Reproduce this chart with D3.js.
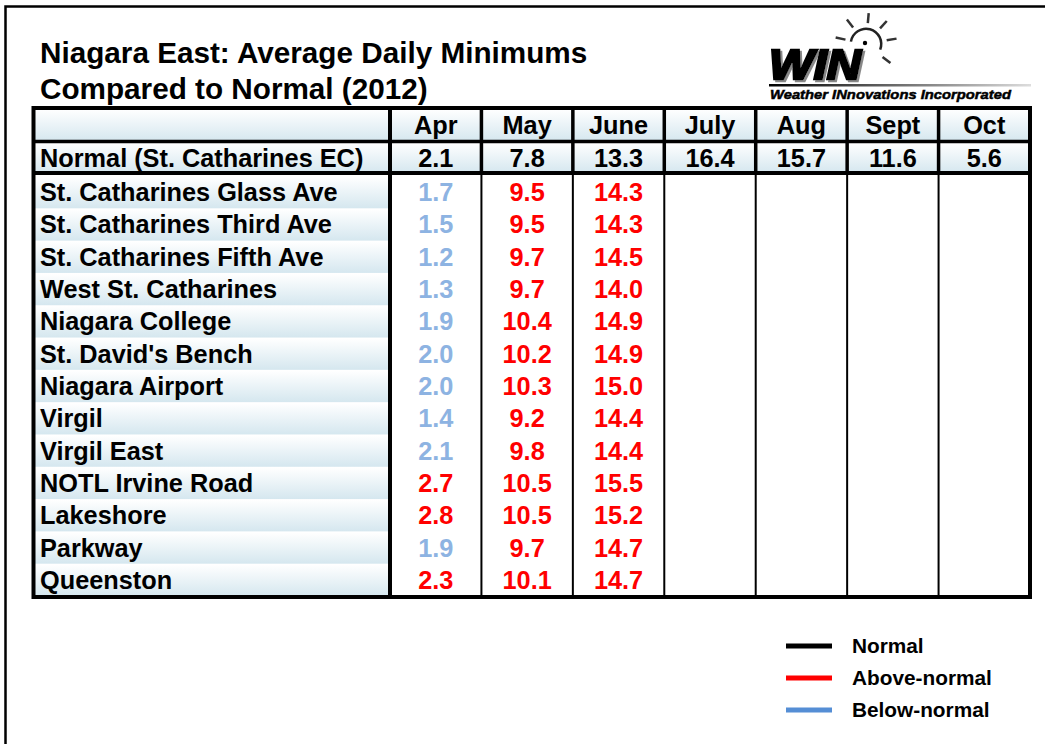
<!DOCTYPE html>
<html>
<head>
<meta charset="utf-8">
<script src="https://cdn.jsdelivr.net/npm/d3@7"></script>
<style>
body { margin: 0; background: #fff; }
svg { display: block; font-family: "Liberation Sans", Arial, sans-serif; font-weight: bold; }
</style>
</head>
<body>
<svg id="chart" width="1045" height="744"></svg>
<script>
// data
var months = ['Apr', 'May', 'June', 'July', 'Aug', 'Sept', 'Oct'];
var normalLabel = 'Normal (St. Catharines EC)';
var normals = [2.1, 7.8, 13.3, 16.4, 15.7, 11.6, 5.6];
var stations = ['St. Catharines Glass Ave', 'St. Catharines Third Ave', 'St. Catharines Fifth Ave',
    'West St. Catharines', 'Niagara College', "St. David's Bench", 'Niagara Airport', 'Virgil',
    'Virgil East', 'NOTL Irvine Road', 'Lakeshore', 'Parkway', 'Queenston'];
var aprValues = [1.7, 1.5, 1.2, 1.3, 1.9, 2.0, 2.0, 1.4, 2.1, 2.7, 2.8, 1.9, 2.3];
var mayValues = [9.5, 9.5, 9.7, 9.7, 10.4, 10.2, 10.3, 9.2, 9.8, 10.5, 10.5, 9.7, 10.1];
var juneValues = [14.3, 14.3, 14.5, 14.0, 14.9, 14.9, 15.0, 14.4, 14.4, 15.5, 15.2, 14.7, 14.7];
var legendLabels = ['Normal', 'Above-normal', 'Below-normal'];
var legendColors = ['#000000', '#ff0000', '#558ed5'];

var titleLines = ['Niagara East: Average Daily Minimums', 'Compared to Normal (2012)'];

var svg = d3.select('#chart');
var defs = svg.append('defs');

var grad = defs.append('linearGradient')
    .attr('id', 'cellGrad')
    .attr('x1', 0).attr('y1', 0).attr('x2', 0).attr('y2', 1);
grad.append('stop').attr('offset', '0%').attr('stop-color', '#ffffff');
grad.append('stop').attr('offset', '100%').attr('stop-color', '#d5e7ef');

var logoGrad = defs.append('linearGradient')
    .attr('id', 'logoLine')
    .attr('x1', 0).attr('y1', 0).attr('x2', 1).attr('y2', 0);
logoGrad.append('stop').attr('offset', '0%').attr('stop-color', '#000');
logoGrad.append('stop').attr('offset', '100%').attr('stop-color', '#ddd');

// soft grey shadow behind the WIN letters
defs.append('filter')
    .attr('id', 'winShadow')
    .append('feDropShadow')
    .attr('dx', 2).attr('dy', 2).attr('stdDeviation', 0.6)
    .attr('flood-color', '#888');

// page frame
svg.append('rect')
    .attr('x', 5.5).attr('y', 6.5)
    .attr('width', 1100).attr('height', 800)
    .attr('fill', 'none').attr('stroke', '#000').attr('stroke-width', 2.5);

// title
svg.append('g').selectAll('text')
    .data(titleLines)
    .enter().append('text')
    .attr('x', 40)
    .attr('y', function(d, i) { return 63 + i * 36; })
    .attr('font-size', 29.7)
    .attr('fill', '#000')
    .text(function(d) { return d; });

// logo
var logo = svg.append('g');
logo.append('text')
    .attr('x', 769).attr('y', 79)
    .attr('font-size', 42).attr('font-style', 'italic')
    .attr('fill', '#000').attr('stroke', '#000').attr('stroke-width', 2.5)
    .attr('textLength', 92).attr('lengthAdjust', 'spacingAndGlyphs')
    .attr('filter', 'url(#winShadow)')
    .text('WIN');
var sunC = [866, 44];
logo.append('path')
    .attr('transform', 'translate(' + sunC + ')')
    .attr('d', d3.arc()({ innerRadius: 14, outerRadius: 16.5, startAngle: -Math.PI * 0.45, endAngle: Math.PI * 0.62 }))
    .attr('fill', '#222');
logo.append('circle').attr('cx', sunC[0] - 1).attr('cy', sunC[1] - 1).attr('r', 2.2).attr('fill', '#000');
var rayAngles = [-78, -38, 5, 42, 80, 128];
logo.append('g').selectAll('line')
    .data(rayAngles)
    .enter().append('line')
    .attr('x1', function(d) { return sunC[0] + 21 * Math.cos((d - 90) * Math.PI / 180); })
    .attr('y1', function(d) { return sunC[1] + 21 * Math.sin((d - 90) * Math.PI / 180); })
    .attr('x2', function(d) { return sunC[0] + 31 * Math.cos((d - 90) * Math.PI / 180); })
    .attr('y2', function(d) { return sunC[1] + 31 * Math.sin((d - 90) * Math.PI / 180); })
    .attr('stroke', '#333').attr('stroke-width', 2.5);
logo.append('rect')
    .attr('x', 769).attr('y', 84).attr('width', 262).attr('height', 2.5)
    .attr('fill', 'url(#logoLine)');
logo.append('text')
    .attr('x', 770).attr('y', 99)
    .attr('font-size', 13.5).attr('font-style', 'italic')
    .attr('textLength', 241).attr('lengthAdjust', 'spacingAndGlyphs')
    .attr('fill', '#000').attr('stroke', '#000').attr('stroke-width', 0.5)
    .text('Weather INnovations Incorporated');

// table geometry (named so they don't clash with window.top)
var tLeft = 33.5, labelRight = 390, tRight = 1030;
var tTop = 108, headBottom = 141.5, normBottom = 173, tBottom = 597;

var x = d3.scaleBand().domain(months).range([labelRight, tRight]);
var y = d3.scaleBand().domain(stations).range([normBottom + 3, tBottom - 1]);

var fs = 25.3;
var table = svg.append('g');

// gradient cells: header and normal rows, label column
var headRows = [{ y0: tTop, y1: headBottom }, { y0: headBottom, y1: normBottom }];
headRows.forEach(function(r) {
    table.append('rect')
        .attr('x', tLeft).attr('y', r.y0 + 1)
        .attr('width', labelRight - tLeft).attr('height', r.y1 - r.y0 - 1)
        .attr('fill', 'url(#cellGrad)');
    table.append('g').selectAll('rect')
        .data(months)
        .enter().append('rect')
        .attr('x', function(d) { return x(d); })
        .attr('y', r.y0 + 1)
        .attr('width', x.bandwidth())
        .attr('height', r.y1 - r.y0 - 1)
        .attr('fill', 'url(#cellGrad)');
});
table.append('g').selectAll('rect')
    .data(stations)
    .enter().append('rect')
    .attr('x', tLeft)
    .attr('y', function(d) { return y(d) + 1; })
    .attr('width', labelRight - tLeft)
    .attr('height', y.bandwidth() - 1)
    .attr('fill', 'url(#cellGrad)');

// header text
table.append('g').selectAll('text')
    .data(months)
    .enter().append('text')
    .attr('x', function(d) { return x(d) + x.bandwidth() / 2; })
    .attr('y', (tTop + headBottom) / 2 + 9.5)
    .attr('text-anchor', 'middle')
    .attr('font-size', fs)
    .text(function(d) { return d; });

table.append('text')
    .attr('x', 40).attr('y', (headBottom + normBottom) / 2 + 10)
    .attr('font-size', fs)
    .text(normalLabel);
table.append('g').selectAll('text')
    .data(normals)
    .enter().append('text')
    .attr('x', function(d, i) { return x(months[i]) + x.bandwidth() / 2; })
    .attr('y', (headBottom + normBottom) / 2 + 10)
    .attr('text-anchor', 'middle')
    .attr('font-size', fs)
    .text(function(d) { return d.toFixed(1); });

// station labels
table.append('g').selectAll('text')
    .data(stations)
    .enter().append('text')
    .attr('x', 40)
    .attr('y', function(d) { return y(d) + y.bandwidth() / 2 + 9; })
    .attr('font-size', fs)
    .text(function(d) { return d; });

// station values, red when above normal, blue otherwise
var series = [aprValues, mayValues, juneValues];
series.forEach(function(vals, m) {
    table.append('g').selectAll('text')
        .data(vals)
        .enter().append('text')
        .attr('x', x(months[m]) + x.bandwidth() / 2)
        .attr('y', function(d, i) { return y(stations[i]) + y.bandwidth() / 2 + 9; })
        .attr('text-anchor', 'middle')
        .attr('font-size', fs)
        .attr('fill', function(d) { return d > normals[m] ? '#ff0000' : '#8db3e2'; })
        .text(function(d) { return d.toFixed(1); });
});

// grid lines
var vlines = months.slice(1).map(function(d) { return x(d); });
table.append('g').selectAll('line')
    .data(vlines)
    .enter().append('line')
    .attr('x1', function(d) { return d; }).attr('x2', function(d) { return d; })
    .attr('y1', tTop).attr('y2', normBottom)
    .attr('stroke', '#000').attr('stroke-width', 3.5);
table.append('g').selectAll('line')
    .data(vlines)
    .enter().append('line')
    .attr('x1', function(d) { return d; }).attr('x2', function(d) { return d; })
    .attr('y1', normBottom).attr('y2', tBottom)
    .attr('stroke', '#000').attr('stroke-width', 2);
table.append('line')
    .attr('x1', labelRight).attr('x2', labelRight)
    .attr('y1', tTop).attr('y2', tBottom)
    .attr('stroke', '#000').attr('stroke-width', 4);
table.append('line')
    .attr('x1', tLeft).attr('x2', tRight)
    .attr('y1', headBottom).attr('y2', headBottom)
    .attr('stroke', '#000').attr('stroke-width', 3.5);
table.append('line')
    .attr('x1', tLeft).attr('x2', tRight)
    .attr('y1', normBottom).attr('y2', normBottom)
    .attr('stroke', '#000').attr('stroke-width', 4);
table.append('rect')
    .attr('x', tLeft).attr('y', tTop)
    .attr('width', tRight - tLeft).attr('height', tBottom - tTop)
    .attr('fill', 'none').attr('stroke', '#000').attr('stroke-width', 4);

// legend
var legend = svg.append('g').selectAll('g')
    .data(legendLabels)
    .enter().append('g')
    .attr('transform', function(d, i) { return 'translate(786,' + (646 + i * 32) + ')'; });
legend.append('line')
    .attr('x1', 0).attr('x2', 46)
    .attr('stroke', function(d, i) { return legendColors[i]; })
    .attr('stroke-width', 5);
legend.append('text')
    .attr('x', 66).attr('y', 7)
    .attr('font-size', 20.8)
    .text(function(d) { return d; });
</script>
</body>
</html>
